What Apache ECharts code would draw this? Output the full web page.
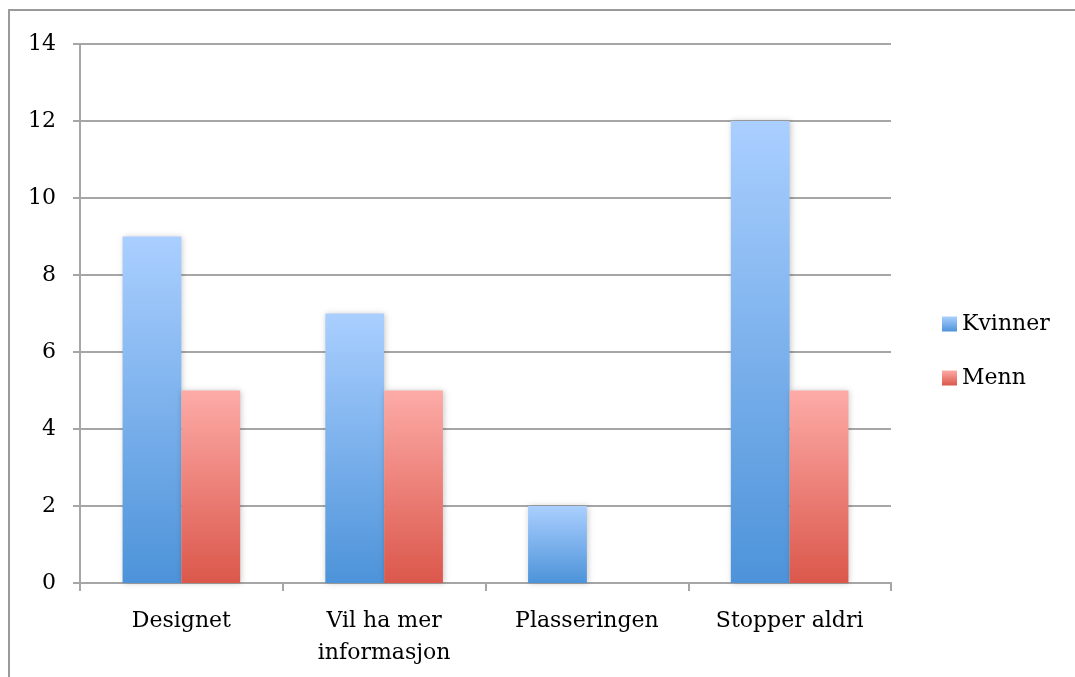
<!DOCTYPE html>
<html>
<head>
<meta charset="utf-8">
<script src="https://cdn.jsdelivr.net/npm/echarts@6/dist/echarts.min.js"></script>
<style>
  html, body { margin: 0; padding: 0; background: #fff; }
  #chart { width: 1075px; height: 677px; }
</style>
</head>
<body>
<div id="chart"></div>
<script>
// Survey answers by gender
const categories = ['Designet', 'Vil ha mer\ninformasjon', 'Plasseringen', 'Stopper aldri'];
const kvinner = [9, 7, 2, 12];
const menn = [5, 5, 0, 5];
const yTicks = { min: 0, max: 14, interval: 2 };

const FONT = 'DejaVu Serif';
const GRID_GRAY = '#a6a6a6';

function vGrad(top, bottom) {
  return new echarts.graphic.LinearGradient(0, 0, 0, 1, [
    { offset: 0, color: top },
    { offset: 1, color: bottom }
  ]);
}

const chart = echarts.init(document.getElementById('chart'), null, { renderer: 'canvas' });

chart.setOption({
  animation: false,
  backgroundColor: '#ffffff',
  // frame along the top and left edges of the chart area
  graphic: [
    {
      type: 'line',
      shape: { x1: 8, y1: 10, x2: 1080, y2: 10 },
      style: { stroke: '#9a9a9a', lineWidth: 2 },
      silent: true, z: 100
    },
    {
      type: 'line',
      shape: { x1: 9, y1: 9, x2: 9, y2: 690 },
      style: { stroke: '#9a9a9a', lineWidth: 2 },
      silent: true, z: 100
    }
  ],
  grid: { left: 80, right: 184, top: 44, bottom: 94, containLabel: false },
  legend: {
    orient: 'vertical',
    left: 942,
    top: 313,
    padding: 0,
    itemWidth: 15,
    itemHeight: 15,
    itemGap: 32,
    icon: 'rect',
    textStyle: { fontFamily: FONT, fontSize: 22, color: '#000' },
    data: ['Kvinner', 'Menn']
  },
  xAxis: {
    type: 'category',
    data: categories,
    axisLine: { lineStyle: { color: GRID_GRAY, width: 2 } },
    axisTick: { show: true, length: 8, lineStyle: { color: GRID_GRAY, width: 2 } },
    axisLabel: {
      fontFamily: FONT, fontSize: 22, color: '#000',
      margin: 22, lineHeight: 32, interval: 0
    }
  },
  yAxis: {
    type: 'value',
    min: yTicks.min,
    max: yTicks.max,
    interval: yTicks.interval,
    axisLine: { show: true, lineStyle: { color: GRID_GRAY, width: 2 } },
    axisTick: { show: true, length: 7, lineStyle: { color: GRID_GRAY, width: 2 } },
    splitLine: { show: true, lineStyle: { color: GRID_GRAY, width: 2 } },
    axisLabel: { fontFamily: FONT, fontSize: 22, color: '#000', margin: 24 }
  },
  series: [
    {
      name: 'Kvinner',
      type: 'bar',
      data: kvinner,
      barGap: '0%',
      barCategoryGap: '42%',
      itemStyle: {
        color: vGrad('#aacfff', '#4d93d9'),
        shadowBlur: 6,
        shadowColor: 'rgba(0,0,0,0.22)',
        shadowOffsetX: 1
      }
    },
    {
      name: 'Menn',
      type: 'bar',
      data: menn,
      itemStyle: {
        color: vGrad('#fdaba7', '#db574b'),
        shadowBlur: 6,
        shadowColor: 'rgba(0,0,0,0.22)',
        shadowOffsetX: 1
      }
    }
  ]
});
</script>
</body>
</html>
